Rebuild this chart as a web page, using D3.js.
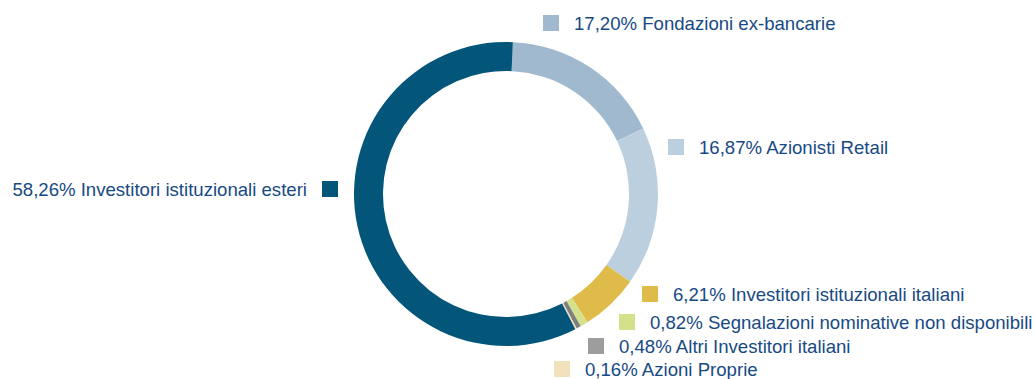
<!DOCTYPE html>
<html>
<head>
<meta charset="utf-8">
<script src="https://cdn.jsdelivr.net/npm/d3@7"></script>
<style>
  html, body { margin: 0; padding: 0; background: #ffffff; }
  svg { display: block; }
  text { font-family: "Liberation Sans", Arial, sans-serif; }
</style>
</head>
<body>
<svg id="chart" width="1035" height="379"></svg>
<script>
// Shareholder composition (percent of share capital)
const categories = [
  "Fondazioni ex-bancarie",
  "Azionisti Retail",
  "Investitori istituzionali italiani",
  "Segnalazioni nominative non disponibili",
  "Altri Investitori italiani",
  "Azioni Proprie",
  "Investitori istituzionali esteri"
];
const shares = [17.20, 16.87, 6.21, 0.82, 0.48, 0.16, 58.26];
const colors = ["#a0b9cf", "#bccfdf", "#dfbc4a", "#d5e08b", "#7f7f7f", "#f2e2bb", "#03557a"];
const swatchColors = ["#a0b9cf", "#bccfdf", "#dfbc4a", "#d5e08b", "#9d9d9d", "#f2e2bb", "#03557a"];

// Legend placement: square top-left corner and which side the text sits on
const legendLayout = [
  { x: 543, y: 15,  side: "right" },
  { x: 668, y: 139, side: "right" },
  { x: 642, y: 286, side: "right" },
  { x: 619, y: 314, side: "right" },
  { x: 588, y: 338, side: "right" },
  { x: 554, y: 361, side: "right" },
  { x: 322, y: 181, side: "left" }
];

const fmt = v => v.toFixed(2).replace(".", ",") + "%";

const svg = d3.select("#chart");
const cx = 506, cy = 194, rOuter = 152, rInner = 123;
const startOffset = 2.6 * Math.PI / 180;

const pie = d3.pie()
  .sort(null)
  .value(d => d)
  .startAngle(startOffset)
  .endAngle(startOffset + 2 * Math.PI);

const arc = d3.arc().innerRadius(rInner).outerRadius(rOuter);

const ring = svg.append("g").attr("transform", `translate(${cx},${cy})`);
ring.selectAll("path")
  .data(pie(shares))
  .join("path")
  .attr("d", arc)
  .attr("fill", (d, i) => colors[i]);

const sq = 16, gap = 15;
const legend = svg.append("g");
categories.forEach((name, i) => {
  const p = legendLayout[i];
  legend.append("rect")
    .attr("x", p.x).attr("y", p.y)
    .attr("width", sq).attr("height", sq)
    .attr("fill", swatchColors[i]);
  const t = legend.append("text")
    .attr("y", p.y + sq - 1)
    .attr("font-size", 18.6)
    .attr("fill", "#174a84")
    .text(fmt(shares[i]) + " " + name);
  if (p.side === "right") {
    t.attr("x", p.x + sq + gap);
  } else {
    t.attr("x", p.x - gap).attr("text-anchor", "end");
  }
});
</script>
</body>
</html>
